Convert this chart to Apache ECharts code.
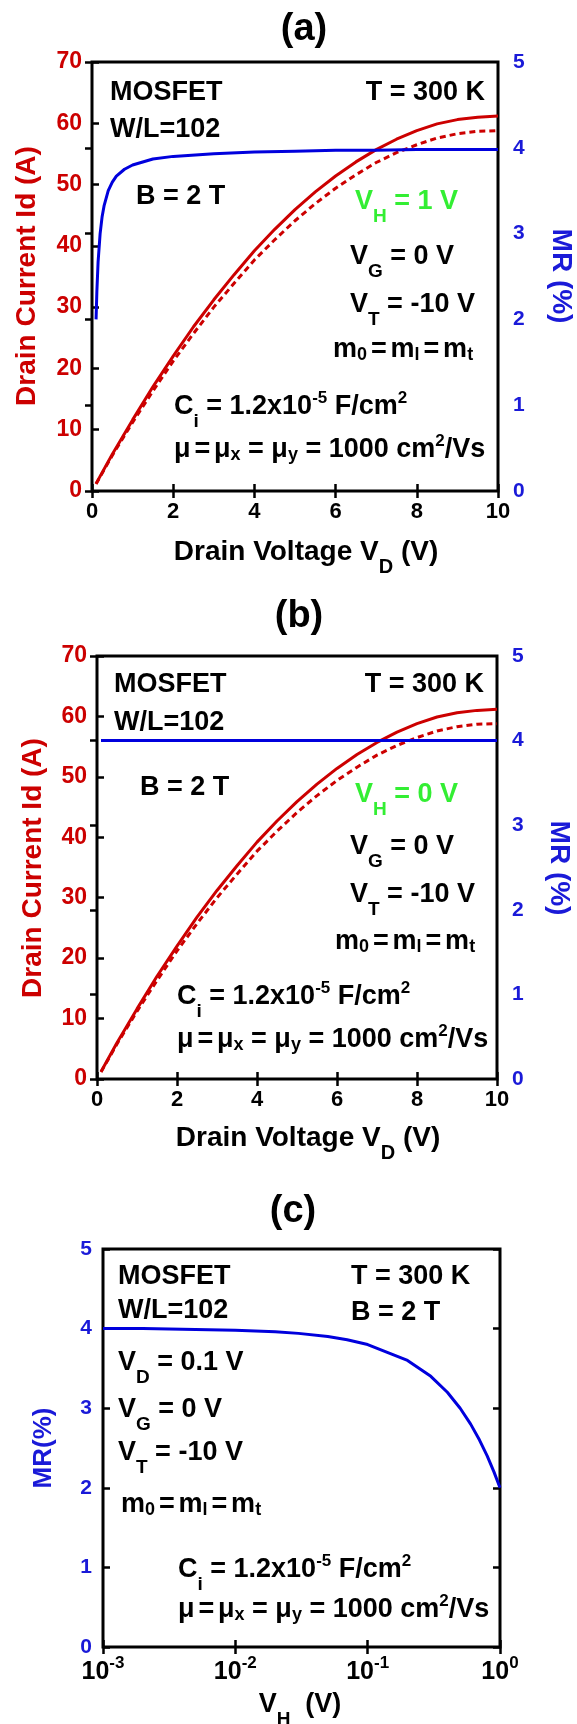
<!DOCTYPE html>
<html>
<head>
<meta charset="utf-8">
<script src="https://cdn.jsdelivr.net/npm/echarts@6/dist/echarts.min.js"></script>
<style>
  html, body { margin: 0; padding: 0; background: #fff; }
  #chart { width: 577px; height: 1724px; }
</style>
</head>
<body>
<div id="chart"></div>
<script>
// Drain voltage samples (V) for the transfer curves
const vd = [0.1, 0.5, 1, 1.5, 2, 2.5, 3, 3.5, 4, 4.5, 5, 5.5, 6, 6.5, 7, 7.5, 8, 8.5, 9, 9.5, 10];
// Drain current (A) without field (solid) and at B = 2 T (dashed)
const idNoField = [1.2, 6.0, 11.6, 17.0, 22.0, 26.8, 31.2, 35.3, 39.2, 42.7, 45.9, 48.8, 51.4, 53.7, 55.7, 57.4, 58.8, 59.9, 60.6, 61.0, 61.2];
const idField = [1.15, 5.8, 11.2, 16.3, 21.2, 25.7, 30.0, 33.9, 37.7, 41.0, 44.1, 46.9, 49.4, 51.6, 53.6, 55.2, 56.5, 57.6, 58.3, 58.7, 58.8];

// Magnetoresistance (%) vs drain voltage, Hall voltage 1 V
const vdMr = [0.1, 0.12, 0.15, 0.2, 0.25, 0.3, 0.4, 0.5, 0.6, 0.8, 1, 1.5, 2, 3, 4, 5, 6, 7, 8, 9, 10];
const mrHall1 = [2.0, 2.33, 2.67, 3.0, 3.2, 3.33, 3.5, 3.6, 3.67, 3.75, 3.8, 3.87, 3.9, 3.93, 3.95, 3.96, 3.97, 3.97, 3.98, 3.98, 3.98];
// Magnetoresistance (%) vs drain voltage, Hall voltage 0 V
const vdFlat = [0.1, 2, 4, 6, 8, 10];
const mrHall0 = [4.0, 4.0, 4.0, 4.0, 4.0, 4.0];

// Magnetoresistance (%) vs Hall voltage (V)
const vh = [0.001, 0.002, 0.005, 0.01, 0.02, 0.03, 0.05, 0.07, 0.1, 0.2, 0.3, 0.4, 0.5, 0.6, 0.7, 0.8, 0.9, 1.0];
const mrVsVh = [4.00, 4.00, 3.99, 3.98, 3.96, 3.94, 3.90, 3.86, 3.80, 3.60, 3.40, 3.20, 3.00, 2.80, 2.60, 2.40, 2.20, 2.00];

// Tick values
const vdTicks = [0, 2, 4, 6, 8, 10];
const idTicks = [0, 10, 20, 30, 40, 50, 60, 70];
const mrTicks = [0, 1, 2, 3, 4, 5];
const vhTicks = [0.001, 0.01, 0.1, 1];

const FONT = "'Liberation Sans', Arial, Helvetica, sans-serif";
const RED = '#cc0000';
const BLUE = '#0000dd';
const BLUE_TXT = '#1a1ad8';
const GREEN = '#33ee33';

const zip = (xs, ys) => xs.map((x, i) => [x, ys[i]]);

const grids = [
  { left: 92, top: 62, width: 406, height: 429 },
  { left: 97, top: 656, width: 400, height: 423 },
  { left: 103, top: 1249, width: 397, height: 398 }
].map(g => Object.assign(g, {
  show: true, borderColor: '#000', borderWidth: 3, backgroundColor: 'transparent',
  containLabel: false, outerBoundsMode: 'none'
}));

const tickStyle = { show: true, inside: true, length: 7, lineStyle: { color: '#000', width: 2.5 } };

function labelStyle(size, color, margin) {
  return { show: true, fontSize: size, fontWeight: 'bold', fontFamily: FONT, color: color, margin: margin };
}

function valueX(gi, pos, showLabel) {
  return {
    type: 'value', gridIndex: gi, position: pos,
    min: vdTicks[0], max: vdTicks[vdTicks.length - 1], interval: vdTicks[1] - vdTicks[0],
    axisLine: { show: false }, axisTick: tickStyle, splitLine: { show: false },
    axisLabel: showLabel ? labelStyle(22, '#000', 10) : { show: false }
  };
}

function idAxis(gi) {
  return {
    type: 'value', gridIndex: gi, position: 'left',
    min: idTicks[0], max: idTicks[idTicks.length - 1], interval: idTicks[1] - idTicks[0],
    axisLine: { show: false }, axisTick: tickStyle, splitLine: { show: false },
    axisLabel: labelStyle(23, RED, 10)
  };
}

function mrAxis(gi, pos, showLabel, margin) {
  return {
    type: 'value', gridIndex: gi, position: pos,
    min: mrTicks[0], max: mrTicks[mrTicks.length - 1], interval: mrTicks[1] - mrTicks[0],
    axisLine: { show: false }, axisTick: tickStyle, splitLine: { show: false },
    axisLabel: showLabel ? labelStyle(21, BLUE_TXT, margin) : { show: false }
  };
}

function logX(pos, showLabel) {
  return {
    type: 'log', logBase: 10, gridIndex: 2, position: pos,
    min: vhTicks[0], max: vhTicks[vhTicks.length - 1],
    axisLine: { show: false }, axisTick: tickStyle, splitLine: { show: false }, minorTick: { show: false },
    axisLabel: showLabel ? {
      show: true, margin: 8,
      formatter: v => '{b|10}{e|' + Math.round(Math.log10(v)) + '}',
      rich: {
        b: { fontSize: 25, fontWeight: 'bold', fontFamily: FONT, color: '#000' },
        e: { fontSize: 17, fontWeight: 'bold', fontFamily: FONT, color: '#000', padding: [0, 0, 18, 0] }
      }
    } : { show: false }
  };
}

// Text with sub/superscripts: {s|..} subscript, {u|..} superscript, {b|..} small baseline subscript, {w| } thin gap
function txt(x, y, str, opt) {
  opt = opt || {};
  const size = opt.size || 27;
  const color = opt.color || '#000';
  const base = { fontWeight: 'bold', fontFamily: FONT, fill: color };
  return {
    type: 'text', x: x, y: y, rotation: opt.rotation || 0, z: 100, silent: true,
    style: {
      text: str, fill: color, fontSize: size, fontWeight: 'bold', fontFamily: FONT,
      align: opt.align || 'left', textAlign: opt.align || 'left',
      verticalAlign: 'middle', textVerticalAlign: 'middle',
      rich: {
        s: Object.assign({ fontSize: Math.round(size * 0.7), padding: [Math.round(size * 1.1), 0, 0, 0] }, base),
        u: Object.assign({ fontSize: Math.round(size * 0.62), padding: [0, 0, Math.round(size * 0.66), 0] }, base),
        b: Object.assign({ fontSize: Math.round(size * 0.66), padding: [Math.round(size * 0.38), 0, 0, 0] }, base),
        w: Object.assign({ fontSize: Math.round(size * 0.5) }, base)
      }
    }
  };
}

const graphics = [
  // ---- panel (a)
  txt(304, 30, '(a)', { size: 38, align: 'center' }),
  txt(110, 93, 'MOSFET'),
  txt(110, 130, 'W/L=102'),
  txt(485, 93, 'T = 300 K', { align: 'right' }),
  txt(136, 197, 'B = 2 T'),
  txt(355, 202, 'V{s|H} = 1 V', { color: GREEN }),
  txt(350, 257, 'V{s|G} = 0 V'),
  txt(350, 305, 'V{s|T} = -10 V'),
  txt(333, 350, 'm{b|0}{w| }={w| }m{b|l}{w| }={w| }m{b|t}'),
  txt(174, 407, 'C{s|i} = 1.2x10{u|-5} F/cm{u|2}'),
  txt(174, 450, 'μ{w| }={w| }μ{b|x} = μ{b|y} = 1000 cm{u|2}/Vs'),
  txt(27, 276, 'Drain Current Id (A)', { size: 28, color: RED, align: 'center', rotation: Math.PI / 2 }),
  txt(561, 276, 'MR (%)', { size: 28, color: BLUE_TXT, align: 'center', rotation: -Math.PI / 2 }),
  txt(306, 552, 'Drain Voltage V{s|D} (V)', { size: 28, align: 'center' }),

  // ---- panel (b)
  txt(299, 617, '(b)', { size: 38, align: 'center' }),
  txt(114, 685, 'MOSFET'),
  txt(114, 723, 'W/L=102'),
  txt(484, 685, 'T = 300 K', { align: 'right' }),
  txt(140, 788, 'B = 2 T'),
  txt(355, 795, 'V{s|H} = 0 V', { color: GREEN }),
  txt(350, 847, 'V{s|G} = 0 V'),
  txt(350, 895, 'V{s|T} = -10 V'),
  txt(335, 942, 'm{b|0}{w| }={w| }m{b|l}{w| }={w| }m{b|t}'),
  txt(177, 997, 'C{s|i} = 1.2x10{u|-5} F/cm{u|2}'),
  txt(177, 1040, 'μ{w| }={w| }μ{b|x} = μ{b|y} = 1000 cm{u|2}/Vs'),
  txt(33, 868, 'Drain Current Id (A)', { size: 28, color: RED, align: 'center', rotation: Math.PI / 2 }),
  txt(559, 868, 'MR (%)', { size: 28, color: BLUE_TXT, align: 'center', rotation: -Math.PI / 2 }),
  txt(308, 1138, 'Drain Voltage V{s|D} (V)', { size: 28, align: 'center' }),

  // ---- panel (c)
  txt(293, 1212, '(c)', { size: 38, align: 'center' }),
  txt(118, 1277, 'MOSFET'),
  txt(118, 1311, 'W/L=102'),
  txt(351, 1277, 'T = 300 K'),
  txt(351, 1313, 'B = 2 T'),
  txt(118, 1363, 'V{s|D} = 0.1 V'),
  txt(118, 1410, 'V{s|G} = 0 V'),
  txt(118, 1453, 'V{s|T} = -10 V'),
  txt(121, 1505, 'm{b|0}{w| }={w| }m{b|l}{w| }={w| }m{b|t}'),
  txt(178, 1570, 'C{s|i} = 1.2x10{u|-5} F/cm{u|2}'),
  txt(178, 1610, 'μ{w| }={w| }μ{b|x} = μ{b|y} = 1000 cm{u|2}/Vs'),
  txt(44, 1448, 'MR(%)', { size: 26, color: BLUE_TXT, align: 'center', rotation: Math.PI / 2 }),
  txt(300, 1705, 'V{s|H}  (V)', { size: 27, align: 'center' })
];

const lineBase = { type: 'line', showSymbol: false, symbol: 'none', animation: false, smooth: false };

const option = {
  animation: false,
  backgroundColor: '#fff',
  grid: grids,
  xAxis: [
    valueX(0, 'bottom', true), valueX(0, 'top', false),
    valueX(1, 'bottom', true), valueX(1, 'top', false),
    logX('bottom', true), logX('top', false)
  ],
  yAxis: [
    idAxis(0), mrAxis(0, 'right', true, 15),
    idAxis(1), mrAxis(1, 'right', true, 15),
    mrAxis(2, 'left', true, 11), mrAxis(2, 'right', false, 0)
  ],
  series: [
    Object.assign({ xAxisIndex: 0, yAxisIndex: 0, data: zip(vd, idNoField),
      lineStyle: { color: RED, width: 3 } }, lineBase),
    Object.assign({ xAxisIndex: 0, yAxisIndex: 0, data: zip(vd, idField),
      lineStyle: { color: RED, width: 3, type: [6, 4] } }, lineBase),
    Object.assign({ xAxisIndex: 0, yAxisIndex: 1, data: zip(vdMr, mrHall1),
      lineStyle: { color: BLUE, width: 3 } }, lineBase),

    Object.assign({ xAxisIndex: 2, yAxisIndex: 2, data: zip(vd, idNoField),
      lineStyle: { color: RED, width: 3 } }, lineBase),
    Object.assign({ xAxisIndex: 2, yAxisIndex: 2, data: zip(vd, idField),
      lineStyle: { color: RED, width: 3, type: [6, 4] } }, lineBase),
    Object.assign({ xAxisIndex: 2, yAxisIndex: 3, data: zip(vdFlat, mrHall0),
      lineStyle: { color: BLUE, width: 3 } }, lineBase),

    Object.assign({ xAxisIndex: 4, yAxisIndex: 4, data: zip(vh, mrVsVh),
      lineStyle: { color: BLUE, width: 3 } }, lineBase)
  ],
  graphic: graphics
};

const chart = echarts.init(document.getElementById('chart'), null, { renderer: 'canvas' });
chart.setOption(option);
</script>
</body>
</html>
